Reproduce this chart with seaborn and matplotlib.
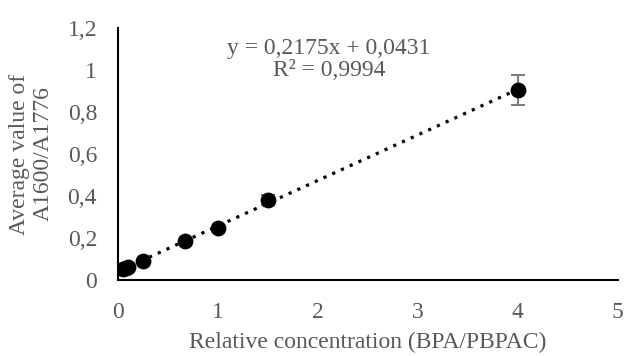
import numpy as np
import pandas as pd
import matplotlib
matplotlib.use('Agg')
import matplotlib.pyplot as plt
import seaborn as sns

# Datos
conc = [0.05, 0.08, 0.1, 0.25, 0.667, 1.0, 1.5, 4.0]
ratio = [0.052, 0.058, 0.062, 0.09, 0.188, 0.248, 0.38, 0.905]
err = [0.0, 0.0, 0.0, 0.0, 0.0, 0.0, 0.025, 0.07]

x_ticks = [0, 1, 2, 3, 4, 5]
y_ticks = [0, 0.2, 0.4, 0.6, 0.8, 1.0, 1.2]
y_ticklabels = ['0', '0,2', '0,4', '0,6', '0,8', '1', '1,2']

eq_text = 'y = 0,2175x + 0,0431'
r2_text = 'R² = 0,9994'

df = pd.DataFrame({'conc': conc, 'ratio': ratio, 'err': err})

sns.set_style('white')
plt.rcParams['font.family'] = ['Liberation Serif', 'DejaVu Serif']
gray = '#595959'
fs = 17

fig = plt.figure(figsize=(6.24, 3.56), dpi=100)
ax = fig.add_axes([0.189, 0.2135, 0.801, 0.7075])

# Linea de tendencia (punteada)
sns.regplot(data=df, x='conc', y='ratio', ci=None, scatter=False, ax=ax,
            line_kws={'color': 'black', 'linestyle': (0, (1, 2.0)), 'linewidth': 2.3})

# Barras de error
ax.errorbar(df['conc'], df['ratio'], yerr=df['err'], fmt='none', ecolor='#7f7f7f',
            elinewidth=1.5, capsize=5, capthick=1.5, zorder=3)

# Puntos
sns.scatterplot(data=df, x='conc', y='ratio', ax=ax, color='black', s=130,
                edgecolor='black', linewidth=0, zorder=4)

ax.set_xlim(0, 5)
ax.set_ylim(0, 1.2)
ax.set_xticks(x_ticks)
ax.set_xticklabels([str(t) for t in x_ticks])
ax.set_yticks(y_ticks)
ax.set_yticklabels(y_ticklabels)
ax.tick_params(axis='both', length=0, labelsize=fs, labelcolor=gray)
ax.tick_params(axis='x', pad=16)
ax.tick_params(axis='y', pad=15)

for s in ['top', 'right']:
    ax.spines[s].set_visible(False)
for s in ['left', 'bottom']:
    ax.spines[s].set_color('black')
    ax.spines[s].set_linewidth(1.5)

ax.set_xlabel('Relative concentration (BPA/PBPAC)', fontsize=fs, color=gray, labelpad=6)
ax.set_ylabel('Average value of\nA1600/A1776', fontsize=fs, color=gray, labelpad=10,
              linespacing=1.2)

ax.text(2.11, 1.105, eq_text, ha='center', va='center', fontsize=fs, color=gray)
ax.text(2.11, 1.0, r2_text, ha='center', va='center', fontsize=fs, color=gray)

plt.savefig('out.png', dpi=100)
